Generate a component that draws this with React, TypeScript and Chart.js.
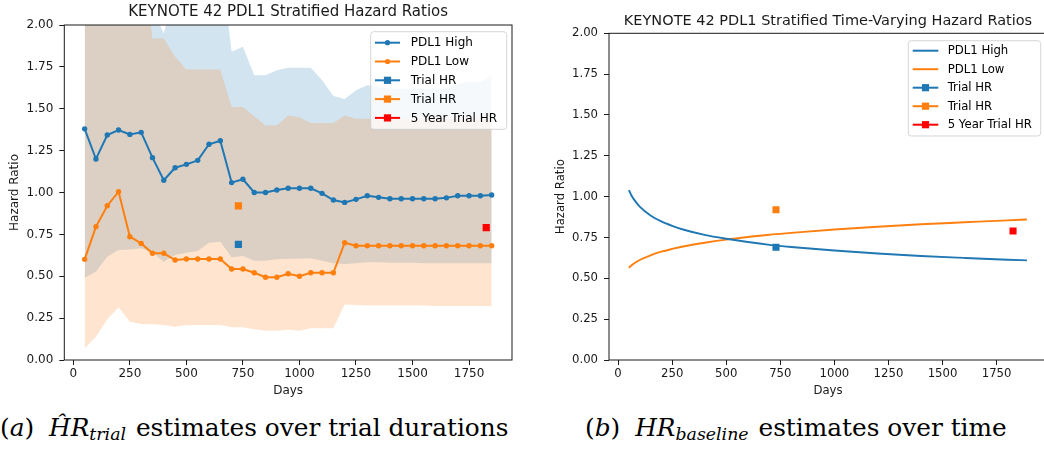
import React, { useEffect, useRef } from "react";
import { Chart, registerables } from "chart.js";

Chart.register(...registerables);

// ---------- Data: (a) trial-duration estimates ----------
const trialDays = [
  50, 100, 150, 200, 250, 300, 350, 400, 450, 500, 550, 600, 650, 700, 750, 800, 850, 900, 950,
  1000, 1050, 1100, 1150, 1200, 1250, 1300, 1350, 1400, 1450, 1500, 1550, 1600, 1650, 1700, 1750,
  1800, 1850,
];
const highHR = [
  1.38, 1.2, 1.343, 1.373, 1.347, 1.359, 1.208, 1.073, 1.148, 1.168, 1.192, 1.288, 1.309, 1.059,
  1.079, 1.0, 1.0, 1.015, 1.025, 1.025, 1.025, 0.995, 0.955, 0.941, 0.959, 0.981, 0.971, 0.963,
  0.963, 0.963, 0.963, 0.963, 0.968, 0.981, 0.981, 0.981, 0.985,
];
const lowHR = [
  0.601, 0.796, 0.921, 1.005, 0.736, 0.696, 0.637, 0.637, 0.597, 0.603, 0.603, 0.603, 0.603, 0.543,
  0.543, 0.521, 0.494, 0.494, 0.515, 0.5, 0.521, 0.521, 0.521, 0.7, 0.682, 0.682, 0.682, 0.682,
  0.682, 0.682, 0.682, 0.682, 0.682, 0.682, 0.682, 0.682, 0.682,
];
const highUpper = [
  3.0, 3.0, 3.0, 3.0, 3.0, 2.6, 2.1, 1.95, 2.2, 2.4, 2.4, 2.4, 2.4, 1.84, 1.87, 1.7, 1.7, 1.73,
  1.745, 1.745, 1.745, 1.67, 1.576, 1.558, 1.61, 1.64, 1.63, 1.62, 1.62, 1.62, 1.62, 1.62, 1.62,
  1.65, 1.66, 1.66, 1.7,
];
const highLower = [
  0.491, 0.527, 0.617, 0.657, 0.66, 0.667, 0.641, 0.587, 0.627, 0.641, 0.651, 0.7, 0.706, 0.613,
  0.621, 0.593, 0.593, 0.601, 0.605, 0.605, 0.607, 0.593, 0.577, 0.573, 0.577, 0.583, 0.583, 0.58,
  0.58, 0.58, 0.578, 0.578, 0.578, 0.577, 0.577, 0.577, 0.577,
];
const lowUpper = [
  3.0, 3.0, 3.0, 3.0, 3.0, 2.45, 1.92, 1.92, 1.81, 1.735, 1.735, 1.735, 1.735, 1.51, 1.51, 1.455,
  1.4, 1.4, 1.46, 1.45, 1.415, 1.415, 1.415, 1.46, 1.44, 1.44, 1.44, 1.44, 1.44, 1.44, 1.44, 1.44,
  1.44, 1.44, 1.44, 1.44, 1.44,
];
const lowLower = [
  0.07, 0.139, 0.243, 0.315, 0.229, 0.215, 0.213, 0.209, 0.199, 0.209, 0.209, 0.209, 0.209, 0.195,
  0.195, 0.183, 0.175, 0.175, 0.18, 0.175, 0.189, 0.189, 0.189, 0.332, 0.328, 0.326, 0.326, 0.326,
  0.326, 0.326, 0.326, 0.322, 0.322, 0.322, 0.322, 0.322, 0.322,
];

// ---------- Trial reference hazard ratios ----------
const trialHRDay = [730];
const trialHRHigh = [0.69];
const trialHRLow = [0.92];
const fiveYearDay = [1826];
const fiveYearHR = [0.79];

// ---------- Data: (b) time-varying baseline ----------
const tvDays = [50, 60, 75, 100, 150, 200, 250, 300, 400, 500, 600, 700, 800, 1000, 1200, 1400, 1600, 1800, 1890];
const tvHigh = [1.04, 1.012, 0.98, 0.939, 0.885, 0.848, 0.821, 0.799, 0.766, 0.742, 0.722, 0.705, 0.692, 0.67, 0.652, 0.637, 0.625, 0.614, 0.61];
const tvLow = [0.565, 0.577, 0.592, 0.612, 0.641, 0.663, 0.68, 0.695, 0.718, 0.737, 0.753, 0.767, 0.778, 0.799, 0.816, 0.831, 0.843, 0.855, 0.86];

// ---------- Ticks & labels ----------
const xTickValues = [0, 250, 500, 750, 1000, 1250, 1500, 1750];
const yTickValues = [0, 0.25, 0.5, 0.75, 1.0, 1.25, 1.5, 1.75, 2.0];
const titleA = "KEYNOTE 42 PDL1 Stratified Hazard Ratios";
const titleB = "KEYNOTE 42 PDL1 Stratified Time-Varying Hazard Ratios";
const legendLabels = ["PDL1 High", "PDL1 Low", "Trial HR", "Trial HR", "5 Year Trial HR"];
const xAxisLabel = "Days";
const yAxisLabel = "Hazard Ratio";

const BLUE = "#1f77b4";
const ORANGE = "#ff7f0e";
const RED = "#ff0000";
const BLUE_FILL = "rgba(31,119,180,0.2)";
const ORANGE_FILL = "rgba(255,127,14,0.2)";
const FONT = '"DejaVu Sans", sans-serif';
const INK = "#1a1a1a";

const pts = (xs: number[], ys: number[]) => xs.map((x, i) => ({ x, y: ys[i] }));

type LegendItem = { label: string; color: string; marker: "dot" | "square" | "none" };

type Deco = {
  title: string;
  titleSize: number;
  titleY: number;
  legend: LegendItem[];
  box: { x: number; y: number; w: number; h: number };
  rowY0: number;
  rowGap: number;
  lineX0: number;
  lineX1: number;
  textX: number;
  fontSize: number;
};

function decoPlugin(d: Deco) {
  return {
    id: "deco",
    afterDraw(chart: any) {
      const { ctx, chartArea } = chart;
      ctx.save();
      ctx.strokeStyle = INK;
      ctx.lineWidth = 1;
      ctx.strokeRect(chartArea.left, chartArea.top, chartArea.right - chartArea.left, chartArea.bottom - chartArea.top);
      ctx.fillStyle = INK;
      ctx.font = `${d.titleSize}px ${FONT}`;
      ctx.textAlign = "center";
      ctx.textBaseline = "middle";
      ctx.fillText(d.title, (chartArea.left + chartArea.right) / 2, d.titleY);
      const { x, y, w, h } = d.box;
      const r = 3;
      ctx.beginPath();
      ctx.moveTo(x + r, y);
      ctx.lineTo(x + w - r, y);
      ctx.quadraticCurveTo(x + w, y, x + w, y + r);
      ctx.lineTo(x + w, y + h - r);
      ctx.quadraticCurveTo(x + w, y + h, x + w - r, y + h);
      ctx.lineTo(x + r, y + h);
      ctx.quadraticCurveTo(x, y + h, x, y + h - r);
      ctx.lineTo(x, y + r);
      ctx.quadraticCurveTo(x, y, x + r, y);
      ctx.closePath();
      ctx.fillStyle = "rgba(255,255,255,0.8)";
      ctx.fill();
      ctx.strokeStyle = "rgba(204,204,204,0.8)";
      ctx.lineWidth = 1;
      ctx.stroke();
      d.legend.forEach((it, i) => {
        const cy = d.rowY0 + i * d.rowGap;
        ctx.strokeStyle = it.color;
        ctx.lineWidth = 2;
        ctx.beginPath();
        ctx.moveTo(d.lineX0, cy);
        ctx.lineTo(d.lineX1, cy);
        ctx.stroke();
        const mx = (d.lineX0 + d.lineX1) / 2;
        ctx.fillStyle = it.color;
        if (it.marker === "dot") {
          ctx.beginPath();
          ctx.arc(mx, cy, 2.6, 0, Math.PI * 2);
          ctx.fill();
        } else if (it.marker === "square") {
          ctx.fillRect(mx - 3.6, cy - 3.6, 7.2, 7.2);
        }
        ctx.fillStyle = "#000";
        ctx.font = `${d.fontSize}px ${FONT}`;
        ctx.textAlign = "left";
        ctx.textBaseline = "middle";
        ctx.fillText(it.label, d.textX, cy + 0.5);
      });
      ctx.restore();
    },
  };
}

function makeScales(o: {
  xmin: number; xmax: number; yWidth: number; xHeight: number; fs: number; yTitlePad: number; xTitlePad: number; yTickPad: number;
}) {
  return {
    x: {
      type: "linear",
      min: o.xmin,
      max: o.xmax,
      afterFit: (s: any) => { s.height = o.xHeight; },
      afterBuildTicks: (s: any) => { s.ticks = xTickValues.map((v) => ({ value: v })); },
      border: { display: false },
      grid: { drawOnChartArea: false, drawTicks: true, tickLength: 5, color: INK, lineWidth: 1 },
      ticks: {
        autoSkip: false,
        maxRotation: 0,
        padding: 2,
        color: INK,
        font: { family: FONT, size: o.fs },
        callback: (v: any) => String(v),
      },
      title: { display: true, text: xAxisLabel, color: INK, font: { family: FONT, size: o.fs }, padding: { top: 0, bottom: o.xTitlePad } },
    },
    y: {
      type: "linear",
      min: 0,
      max: 2,
      afterFit: (s: any) => { s.width = o.yWidth; },
      afterBuildTicks: (s: any) => { s.ticks = yTickValues.map((v) => ({ value: v })); },
      border: { display: false },
      grid: { drawOnChartArea: false, drawTicks: true, tickLength: 5, color: INK, lineWidth: 1 },
      ticks: {
        autoSkip: false,
        padding: o.yTickPad,
        color: INK,
        font: { family: FONT, size: o.fs },
        callback: (v: any) => Number(v).toFixed(2),
      },
      title: { display: true, text: yAxisLabel, color: INK, font: { family: FONT, size: o.fs }, padding: { top: o.yTitlePad, bottom: 0 } },
    },
  };
}

function ChartA() {
  const ref = useRef<HTMLCanvasElement>(null);
  useEffect(() => {
    const squareDs = (label: string, xs: number[], ys: number[], color: string) => ({
      label, data: pts(xs, ys), showLine: false, pointStyle: "rect", pointRadius: 5.1, pointHoverRadius: 5.1,
      pointBackgroundColor: color, pointBorderWidth: 0, borderColor: color, backgroundColor: color,
    });
    const band = (label: string, ys: number[], fillColor: string, fill: any) => ({
      label, data: pts(trialDays, ys), borderWidth: 0, borderColor: "rgba(0,0,0,0)", pointRadius: 0,
      backgroundColor: fillColor, fill, tension: 0,
    });
    const chart = new Chart(ref.current as HTMLCanvasElement, {
      type: "line",
      data: {
        datasets: [
          { label: legendLabels[0], data: pts(trialDays, highHR), borderColor: BLUE, borderWidth: 2, pointRadius: 2.7, pointBackgroundColor: BLUE, pointBorderWidth: 0, fill: false, tension: 0 },
          { label: legendLabels[1], data: pts(trialDays, lowHR), borderColor: ORANGE, borderWidth: 2, pointRadius: 2.7, pointBackgroundColor: ORANGE, pointBorderWidth: 0, fill: false, tension: 0 },
          squareDs(legendLabels[2], trialHRDay, trialHRHigh, BLUE),
          squareDs(legendLabels[3], trialHRDay, trialHRLow, ORANGE),
          squareDs(legendLabels[4], fiveYearDay, fiveYearHR, RED),
          // drawn last-to-first: blue band first, orange band on top
          band("low upper", lowUpper, ORANGE_FILL, "+1"),
          band("low lower", lowLower, ORANGE_FILL, false),
          band("high upper", highUpper, BLUE_FILL, "+1"),
          band("high lower", highLower, BLUE_FILL, false),
        ] as any,
      },
      options: {
        animation: false,
        responsive: false,
        events: [],
        layout: { padding: { top: 25, right: 8, bottom: 0, left: 0 } },
        plugins: { legend: { display: false }, tooltip: { enabled: false }, title: { display: false } },
        scales: makeScales({ xmin: -40, xmax: 1940, yWidth: 64.3, xHeight: 40, fs: 12, yTitlePad: 7.8, xTitlePad: 1.8, yTickPad: 6 }) as any,
      },
      plugins: [
        decoPlugin({
          title: titleA, titleSize: 15, titleY: 12.5,
          legend: [
            { label: legendLabels[0], color: BLUE, marker: "dot" },
            { label: legendLabels[1], color: ORANGE, marker: "dot" },
            { label: legendLabels[2], color: BLUE, marker: "square" },
            { label: legendLabels[3], color: ORANGE, marker: "square" },
            { label: legendLabels[4], color: RED, marker: "square" },
          ],
          box: { x: 370.7, y: 31.7, w: 136, h: 97.6 },
          rowY0: 42.7, rowGap: 18.8, lineX0: 375, lineX1: 400, textX: 410.7, fontSize: 12,
        }),
      ],
    });
    return () => chart.destroy();
  }, []);
  return <canvas ref={ref} width={520} height={400} style={{ position: "absolute", left: 0, top: 0, width: 520, height: 400 }} />;
}

function ChartB() {
  const ref = useRef<HTMLCanvasElement>(null);
  useEffect(() => {
    const squareDs = (label: string, xs: number[], ys: number[], color: string) => ({
      label, data: pts(xs, ys), showLine: false, pointStyle: "rect", pointRadius: 5, pointHoverRadius: 5,
      pointBackgroundColor: color, pointBorderWidth: 0, borderColor: color, backgroundColor: color,
    });
    const chart = new Chart(ref.current as HTMLCanvasElement, {
      type: "line",
      data: {
        datasets: [
          squareDs(legendLabels[2], trialHRDay, trialHRHigh, BLUE),
          squareDs(legendLabels[3], trialHRDay, trialHRLow, ORANGE),
          squareDs(legendLabels[4], fiveYearDay, fiveYearHR, RED),
          { label: legendLabels[0], data: pts(tvDays, tvHigh), borderColor: BLUE, borderWidth: 1.9, pointRadius: 0, fill: false, cubicInterpolationMode: "monotone" },
          { label: legendLabels[1], data: pts(tvDays, tvLow), borderColor: ORANGE, borderWidth: 1.9, pointRadius: 0, fill: false, cubicInterpolationMode: "monotone" },
        ] as any,
      },
      options: {
        animation: false,
        responsive: false,
        events: [],
        layout: { padding: { top: 33.3, right: 13, bottom: 0, left: 0 } },
        plugins: { legend: { display: false }, tooltip: { enabled: false }, title: { display: false } },
        scales: makeScales({ xmin: -42, xmax: 1983, yWidth: 79, xHeight: 40, fs: 11.7, yTitlePad: 24, xTitlePad: 2, yTickPad: 6 }) as any,
      },
      plugins: [
        decoPlugin({
          title: titleB, titleSize: 14.5, titleY: 21.5,
          legend: [
            { label: legendLabels[0], color: BLUE, marker: "none" },
            { label: legendLabels[1], color: ORANGE, marker: "none" },
            { label: legendLabels[2], color: BLUE, marker: "square" },
            { label: legendLabels[3], color: ORANGE, marker: "square" },
            { label: legendLabels[4], color: RED, marker: "square" },
          ],
          box: { x: 378.3, y: 40.7, w: 132.4, h: 95.3 },
          rowY0: 50.7, rowGap: 18.5, lineX0: 382.7, lineX1: 408.3, textX: 417.7, fontSize: 11.7,
        }),
      ],
    });
    return () => chart.destroy();
  }, []);
  return <canvas ref={ref} width={530} height={400} style={{ position: "absolute", left: 530, top: 0, width: 530, height: 400 }} />;
}

const capStyle: React.CSSProperties = {
  position: "absolute",
  top: 411,
  fontFamily: '"DejaVu Serif", serif',
  fontSize: 24.8,
  lineHeight: "34px",
  whiteSpace: "nowrap",
  color: "#000",
  fontWeight: 400,
};
const subStyle: React.CSSProperties = { fontSize: "0.7em", fontStyle: "italic", verticalAlign: "-0.22em", lineHeight: 0, marginRight: 2 };
const gapStyle: React.CSSProperties = { display: "inline-block", width: 7 };

export default function App() {
  useEffect(() => {
    document.body.style.margin = "0";
  }, []);
  return (
    <div style={{ position: "absolute", left: 0, top: 0, width: 1044, height: 451, overflow: "hidden", background: "#fff" }}>
      <ChartA />
      <ChartB />
      <div style={{ ...capStyle, left: 0 }}>
        (<i>a</i>)<span style={gapStyle} /> <i>Ĥ</i><i>R</i><span style={subStyle}>trial</span> estimates over trial durations
      </div>
      <div style={{ ...capStyle, left: 585 }}>
        (<i>b</i>)<span style={gapStyle} /> <i>HR</i><span style={subStyle}>baseline</span> estimates over time
      </div>
    </div>
  );
}
